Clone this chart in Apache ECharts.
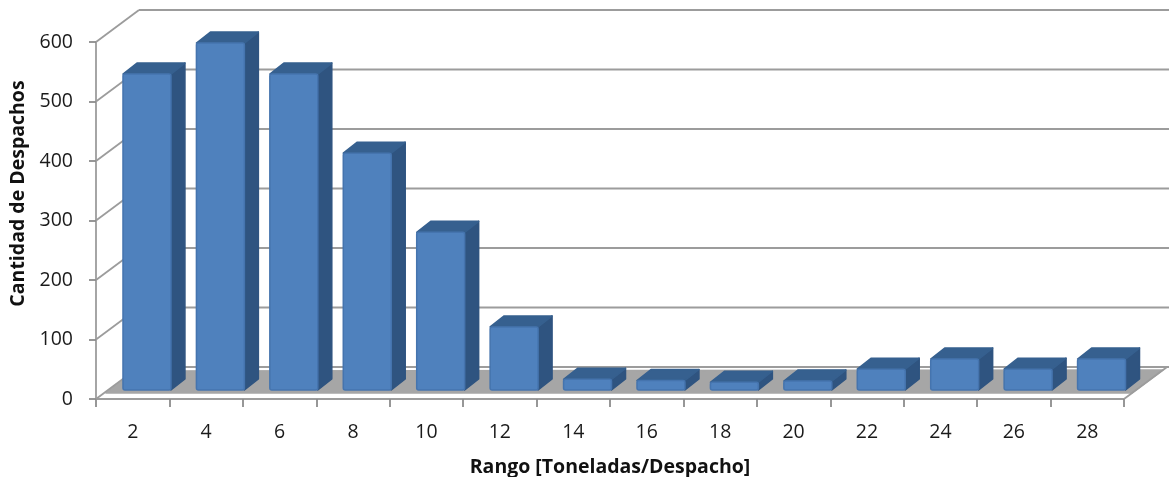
<!DOCTYPE html>
<html>
<head>
<meta charset="utf-8">
<style>html,body{margin:0;background:#fff}#chart{width:1169px;height:477px}</style>
<script src="https://cdn.jsdelivr.net/npm/echarts@6/dist/echarts.min.js"></script>
</head>
<body>
<div id="chart"></div>
<script>
const categories = ['2','4','6','8','10','12','14','16','18','20','22','24','26','28'];
const despachos = [531, 583, 531, 398, 265, 106, 18, 16, 13, 15, 35, 52, 35, 52];
const yTicks = [0, 100, 200, 300, 400, 500, 600];

// fake 3d offsets, px
const wallDx = 43, wallDy = -32;
const planeDx = 14.25, planeDy = -9;
const barDx = 14, barDy = -11;
const gridColor = '#9c9c9c';

const line = (x1, y1, x2, y2) => ({
    type: 'line',
    shape: {x1, y1, x2, y2},
    style: {stroke: gridColor, lineWidth: 1.8}
});
const poly = (points, fill) => ({
    type: 'polygon',
    shape: {points},
    style: {fill, stroke: fill, lineWidth: 1.5, lineJoin: 'round'}
});

function renderWall(params, api){
    let p = api.coord([0, api.value(0)]), halfBand = api.size([1, 0])[0] / 2, x0 = p[0] - halfBand;
    let x1 = x0 + halfBand * 2 * categories.length;
    let children = [
        line(x0, p[1], x0 + wallDx, p[1] + wallDy),
        line(x0 + wallDx, p[1] + wallDy, 1169, p[1] + wallDy)
    ];
    if(api.value(0) === 0){
        children.push(line(x1, p[1], x1 + wallDx, p[1] + wallDy));
        children.unshift(poly([
            [x0 + 10, p[1] - 6],
            [x1 + 8, p[1] - 6],
            [x1 + 39, p[1] - 29],
            [x0 + 39, p[1] - 28]
        ], '#a6a6a6'));
    }
    return {type: 'group', children: children};
}

function renderBar(params, api){
    let top = api.coord([api.value(0), api.value(1)]), base = api.coord([api.value(0), 0]);
    let w = api.size([1, 0])[0] * 0.653;
    let x = top[0] + planeDx - w / 2, yt = top[1] + planeDy, yb = base[1] + planeDy;
    return {
        type: 'group',
        children: [
            poly([[x + w, yt], [x + w + barDx, yt + barDy], [x + w + barDx, yb + barDy], [x + w, yb]], '#2f5480'),
            poly([[x, yt], [x + barDx, yt + barDy], [x + w + barDx, yt + barDy], [x + w, yt]], '#36608f'),
            {
                type: 'rect',
                shape: {x: x, y: yt, width: w, height: yb - yt, r: 2},
                style: {fill: '#4f81bd', stroke: '#4574ae', lineWidth: 1.5}
            }
        ]
    };
}

let chart = echarts.init(document.getElementById('chart'));
let option = {
    animation: false,
    backgroundColor: '#fff',
    textStyle: {fontFamily: '"Open Sans"'},
    grid: {left: 96, right: 45, top: 42, bottom: 78, outerBoundsMode: 'none'},
    xAxis: {
        type: 'category',
        data: categories,
        name: 'Rango [Toneladas/Despacho]',
        nameLocation: 'middle',
        nameGap: 58,
        nameTextStyle: {color: '#111', fontWeight: 'bold', fontSize: 19.5},
        axisLine: {lineStyle: {color: gridColor, width: 1.8}},
        axisTick: {show: true, length: 8, lineStyle: {color: '#8c8c8c', width: 1.8}},
        axisLabel: {color: '#1a1a1a', fontSize: 19.5, margin: 23},
        splitLine: {show: false}
    },
    yAxis: {
        type: 'value',
        min: 0,
        max: 600,
        interval: 100,
        name: 'Cantidad de Despachos',
        nameLocation: 'middle',
        nameGap: 66,
        nameTextStyle: {color: '#111', fontWeight: 'bold', fontSize: 19.5, padding: [0, 0, 0, 54]},
        axisLine: {show: true, lineStyle: {color: gridColor, width: 1.8}},
        axisTick: {show: true, length: 7, lineStyle: {color: '#8c8c8c', width: 1.8}},
        axisLabel: {color: '#1a1a1a', fontSize: 19.5, margin: 23, padding: [8, 0, 0, 0]},
        splitLine: {show: false}
    },
    series: [
        {
            type: 'custom',
            renderItem: renderWall,
            clip: false,
            silent: true,
            z: 1,
            encode: {y: 0},
            data: yTicks.map(v => [v])
        },
        {
            type: 'custom',
            renderItem: renderBar,
            clip: false,
            z: 3,
            encode: {x: 0, y: 1},
            data: despachos.map((v, i) => [i, v])
        }
    ]
};
chart.setOption(option);
</script>
</body>
</html>
